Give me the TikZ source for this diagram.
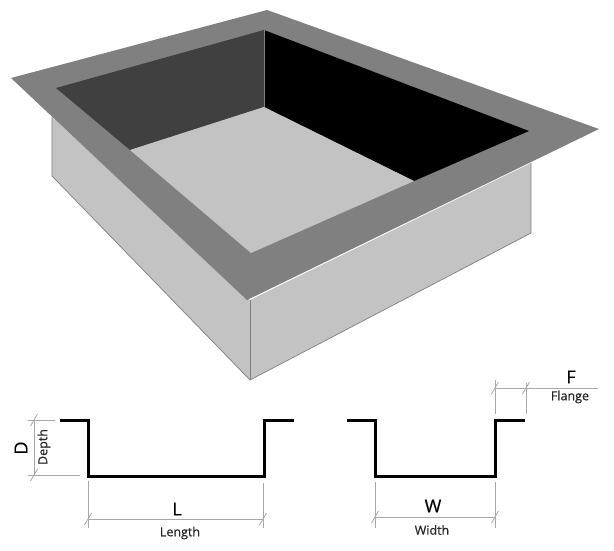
\documentclass[tikz,border=0pt]{standalone}
\usepackage{fontspec}
\setmainfont{Open Sans}
\newfontfamily\labelfont[FakeBold=0.5]{Open Sans}
\usepackage{tikz}
\definecolor{flangegray}{HTML}{808080}
\definecolor{lightgray}{HTML}{C3C3C3}
\definecolor{darkwall}{HTML}{404040}
\definecolor{dimgray}{HTML}{A8A8A8}

\begin{document}
\begin{tikzpicture}[x=1pt,y=-1pt,
                    flangee/.style={fill=flangegray},
                    sidee/.style={fill=lightgray},
                    edgee/.style={draw=gray, line width=0.7pt},
                    floorr/.style={fill=lightgray},
                    sectionn/.style={draw=black, line width=3pt, miter limit=2},
                    dimm/.style={draw=dimgray, line width=0.8pt},
                    bigl/.style={font=\labelfont\fontsize{18}{18}\selectfont, text=black, inner sep=0pt},
                    smalll/.style={font=\labelfont\fontsize{12.5}{12.5}\selectfont, text=black!85, inner sep=0pt}]
  \useasboundingbox (0,0) rectangle (614,550);

  % tray
  \fill[sidee] (52,117) -- (52,176) -- (250,380) -- (531,233) -- (531,163) -- (250,300) -- cycle;
  \draw[edgee] (52,117) -- (52,176) -- (250,380) -- (531,233) -- (531,163);
  \draw[edgee] (250,300) -- (250,380);
  \fill[flangee] (267,10) -- (599,129) -- (247,300) -- (11,78) -- cycle;
  \fill[darkwall] (56,88) -- (264,30) -- (264,107) -- (130,150) -- cycle;
  \fill[black] (264,30) -- (529,131) -- (414,181) -- (264,107) -- cycle;
  \fill[floorr] (264,107) -- (414,181) -- (251,253) -- (130,150) -- cycle;
  \draw[gray, line width=0.6pt] (264,30) -- (264,107);

  % sections
  \draw[sectionn] (60,420) -- (88,420) -- (88,476) -- (264,476) -- (264,420) -- (294,420);
  \draw[sectionn] (347,420) -- (375,420) -- (375,476) -- (495,476) -- (495,420) -- (525,420);

  % ends of the dimension lines
  \coordinate (DepthA) at (34,420);
  \coordinate (DepthB) at (34,475);
  \coordinate (LengthA) at (88,519);
  \coordinate (LengthB) at (263,519);
  \coordinate (WidthA) at (375,517);
  \coordinate (WidthB) at (495,517);
  \coordinate (FlangeA) at (495,388);
  \coordinate (FlangeB) at (526,388);
  \coordinate (FlangeEnd) at (598,388);

  \draw[dimm] (28,420) -- (55,420);
  \draw[dimm] (28,475) -- (80,475);
  \draw[dimm] (88,481) -- (88,528);
  \draw[dimm] (263,483) -- (263,528);
  \draw[dimm] (375,482) -- (375,528);
  \draw[dimm] (495,482) -- (495,528);
  \draw[dimm] (495,380) -- (495,414);
  \draw[dimm] (526,383) -- (526,414);

  \path[dimm]
    (DepthA) edge (DepthB)
    (LengthA) edge (LengthB)
    (WidthA) edge (WidthB)
    (FlangeA) edge (FlangeEnd);

  \foreach \p in {DepthA,DepthB,LengthA,LengthB,WidthA,WidthB,FlangeA,FlangeB}
    \draw[dimm, shift={(\p)}] (-3.5,6) -- (3.5,-6);

  \node (D) [bigl, rotate=90] at (21,448) {D};
  \node (Depth) [smalll, rotate=90] at (44,447) {Depth};
  \node (L) [bigl] at (177,509) {L};
  \node (Length) [smalll] at (180,533) {Length};
  \node (W) [bigl] at (433,506) {W};
  \node (Width) [smalll] at (432,530) {Width};
  \node (F) [bigl] at (571,377) {F};
  \node (Flange) [smalll] at (570,397) {Flange};
\end{tikzpicture}
\end{document}
